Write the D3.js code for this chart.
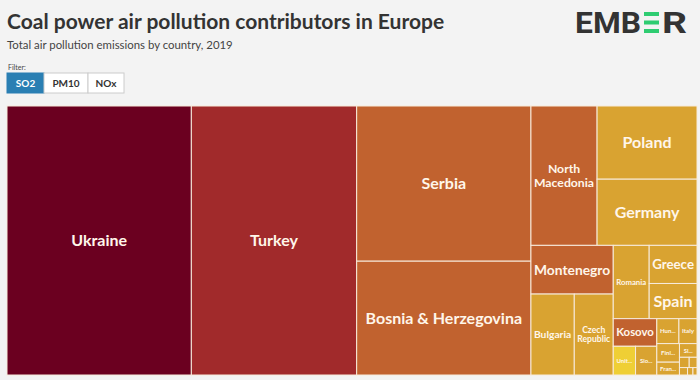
<!DOCTYPE html>
<html>
<head>
<meta charset="utf-8">
<script src="https://cdn.jsdelivr.net/npm/d3@7"></script>
<style>
  body { margin: 0; background: #f3f3f3; }
  svg { display: block; font-family: Lato, "Open Sans", sans-serif; }
</style>
</head>
<body>
<script>
// SO2 emissions from coal power, 2019 (kt)
var countries = ['Ukraine', 'Turkey', 'Serbia', 'Bosnia & Herzegovina', 'North Macedonia',
                 'Poland', 'Germany', 'Montenegro', 'Bulgaria', 'Czech Republic', 'Romania',
                 'Greece', 'Spain', 'Kosovo', 'United Kingdom', 'Slovakia', 'Hungary', 'Italy',
                 'Finland', 'France', 'Slovenia', 'Ireland', 'Netherlands', 'Portugal',
                 'Denmark', 'Austria'];
var so2 = [495, 444, 270, 198, 92, 73, 66, 40, 35, 31.5, 26.3, 18.2, 16.8, 12,
           6.4, 6.1, 5.5, 4.5, 4.2, 2.9, 2.4, 1.0, 0.8, 0.6, 0.4, 0.3];
// colour band for each country
var band = [0, 1, 2, 2, 2, 3, 3, 2, 3, 3, 3, 3, 3, 2, 4, 3, 3, 3, 3, 3, 3, 3, 3, 3, 3, 3];
var bandColors = ['#6b0020', '#a12a2b', '#c1622f', '#d9a331', '#efcf35'];
var filters = ['SO2', 'PM10', 'NOx'];

var width = 700, height = 380,
    box = {x: 7, y: 106, w: 690, h: 269};

var color = d3.scaleOrdinal().domain([0, 1, 2, 3, 4]).range(bandColors);

var svg = d3.select('body').append('svg')
    .attr('width', width)
    .attr('height', height);

svg.append('rect').attr('width', width).attr('height', height).attr('fill', '#f3f3f3');

// title block
svg.append('text')
    .attr('x', 7).attr('y', 29)
    .attr('font-size', 21).attr('font-weight', 700).attr('fill', '#333')
    .text('Coal power air pollution contributors in Europe');
svg.append('text')
    .attr('x', 7).attr('y', 49)
    .attr('font-size', 11.4).attr('fill', '#444')
    .text('Total air pollution emissions by country, 2019');
svg.append('text')
    .attr('x', 8).attr('y', 70)
    .attr('font-size', 7).attr('fill', '#444')
    .text('Filter:');

// filter buttons
var btnX = d3.scaleOrdinal().domain(filters).range([7, 44, 88]);
var btnW = {SO2: 37, PM10: 44, NOx: 36};
var btn = svg.append('g').selectAll('g')
    .data(filters)
    .enter().append('g')
    .attr('transform', function(d) { return 'translate(' + btnX(d) + ',73)'; });
btn.append('rect')
    .attr('width', function(d) { return btnW[d]; })
    .attr('height', 20)
    .attr('fill', function(d, i) { return i == 0 ? '#2a7fb3' : '#fff'; })
    .attr('stroke', function(d, i) { return i == 0 ? '#2a7fb3' : '#ccc'; });
btn.append('text')
    .attr('x', function(d) { return btnW[d] / 2; })
    .attr('y', 14)
    .attr('text-anchor', 'middle')
    .attr('font-size', 10).attr('font-weight', 700)
    .attr('fill', function(d, i) { return i == 0 ? '#fff' : '#333'; })
    .text(function(d) { return d; });

// EMBER logo
var logo = svg.append('g').attr('class', 'logo');
logo.append('text')
    .attr('x', 575).attr('y', 33)
    .attr('font-family', 'Roboto, sans-serif')
    .attr('font-size', 29).attr('font-weight', 700).attr('fill', '#333')
    .attr('textLength', 66).attr('lengthAdjust', 'spacingAndGlyphs')
    .text('EMB');
logo.selectAll('rect')
    .data([12, 20.5, 29])
    .enter().append('rect')
    .attr('x', 644).attr('y', function(d) { return d; })
    .attr('width', 15).attr('height', 4)
    .attr('fill', '#2ecc71');
logo.append('text')
    .attr('x', 662).attr('y', 33)
    .attr('font-family', 'Roboto, sans-serif')
    .attr('font-size', 29).attr('font-weight', 700).attr('fill', '#333')
    .attr('textLength', 25).attr('lengthAdjust', 'spacingAndGlyphs')
    .text('R');

// treemap
var data = countries.map(function(c, i) { return {name: c, value: so2[i], band: band[i]}; });
var root = d3.hierarchy({children: data})
    .sum(function(d) { return d.value; })
    .sort(function(a, b) { return b.value - a.value; });

d3.treemap()
    .tile(d3.treemapBinary)
    .size([box.w, box.h])(root);

var map = svg.append('g').attr('transform', 'translate(' + box.x + ',' + box.y + ')');

var cell = map.selectAll('g')
    .data(root.leaves())
    .enter().append('g')
    .attr('transform', function(d) { return 'translate(' + d.x0 + ',' + d.y0 + ')'; });

cell.append('rect')
    .attr('width', function(d) { return d.x1 - d.x0; })
    .attr('height', function(d) { return d.y1 - d.y0; })
    .attr('fill', function(d) { return color(d.data.band); })
    .attr('stroke', '#f7ebdc')
    .attr('stroke-width', 1);

// measure helper
var probe = svg.append('text').attr('font-weight', 700).attr('font-size', 10).attr('visibility', 'hidden');
function measure(s) { probe.text(s); return probe.node().getComputedTextLength() / 10; }

cell.each(function(d) {
    var w = d.x1 - d.x0, h = d.y1 - d.y0;
    var name = d.data.name, pad = 6;
    if (w < 12 || h < 10) return;
    var options = [[name]];
    if (name.indexOf(' ') > 0 && name.indexOf('&') < 0) options.push(name.split(' '));
    var best = null;
    options.forEach(function(lines) {
        var lw = d3.max(lines, measure);
        var fs = Math.min(16, (w - pad) / lw, (h - 4) / (lines.length * 1.15));
        if (!best || fs > best.fs + 0.5) best = {lines: lines, fs: fs};
    });
    if (best.fs < 6) {
        var fs = Math.min(6, (h - 2) / 1.2), n = name.length;
        while (n > 1 && measure(name.slice(0, n) + '...') * fs > w - pad) n--;
        best = {lines: [name.slice(0, n) + '...'], fs: fs};
    }
    var t = d3.select(this).append('text')
        .attr('text-anchor', 'middle')
        .attr('font-size', best.fs)
        .attr('font-weight', 700)
        .attr('fill', '#fff6ea');
    var n = best.lines.length;
    best.lines.forEach(function(l, i) {
        t.append('tspan')
            .attr('x', w / 2)
            .attr('y', h / 2 + (i - (n - 1) / 2) * best.fs * 1.15 + best.fs * 0.35)
            .text(l);
    });
});
</script>
</body>
</html>
